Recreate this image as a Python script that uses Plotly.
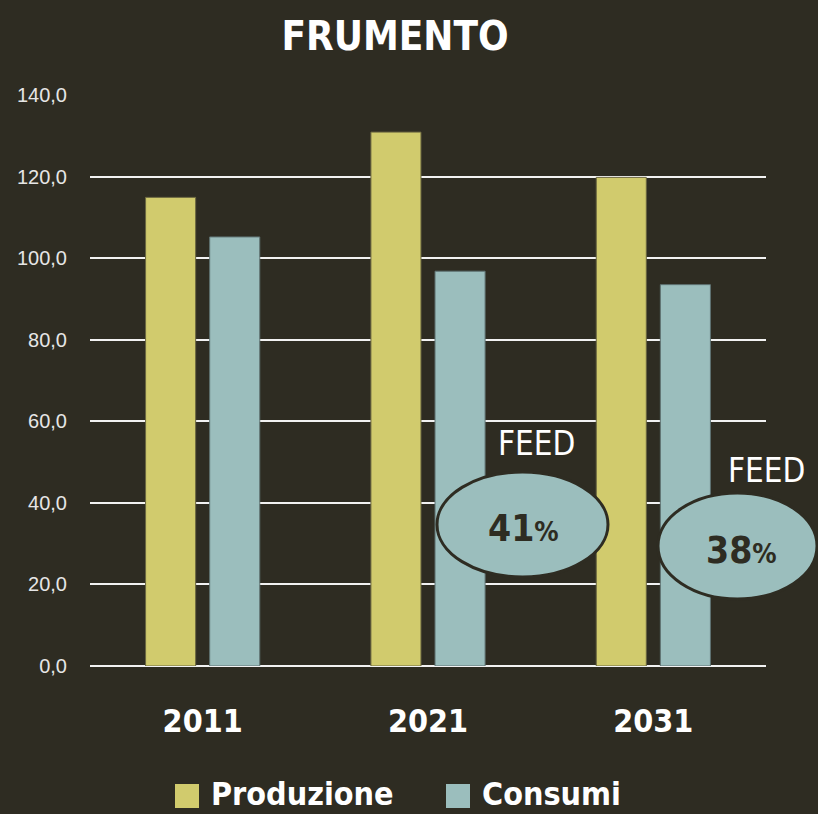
import plotly.graph_objects as go

years = ["2011", "2021", "2031"]
produzione = [114.9, 130.9, 119.8]
consumi = [105.2, 96.8, 93.5]
y_ticks = [0, 20, 40, 60, 80, 100, 120, 140]
y_tick_labels = ["0,0", "20,0", "40,0", "60,0", "80,0", "100,0", "120,0", "140,0"]
feed_labels = ["41", "38"]

BG = "#2e2c22"
YEL = "#d1cb6d"
BLU = "#9bbebd"
NARROW = "DejaVu Sans Condensed, Liberation Sans Narrow, sans-serif"

W, H = 818, 814
L, R, T, B = 90, 52, 95, 148
PW, PH = W - L - R, H - T - B


def px(x):
    return (x - L) / PW


def py(y):
    return (H - B - y) / PH


fig = go.Figure()
fig.add_trace(go.Bar(x=years, y=produzione, name="Produzione",
                     marker=dict(color=YEL, line=dict(color="#6a6640", width=1))))
fig.add_trace(go.Bar(x=years, y=consumi, name="Consumi",
                     marker=dict(color=BLU, line=dict(color="#5f7373", width=1))))

shapes = []
annotations = []

# FEED ellipses
ellipses = [(437, 472, 608, 577), (658, 493, 817, 599)]
feed_pos = [(536, 443), (766, 471)]
pct_pos = [(523, 528), (741, 550)]
for (x0, y0, x1, y1), (fx, fy), (tx, ty), lab in zip(ellipses, feed_pos, pct_pos, feed_labels):
    shapes.append(dict(type="circle", xref="paper", yref="paper",
                       x0=px(x0), x1=px(x1), y0=py(y1), y1=py(y0),
                       fillcolor=BLU, line=dict(color=BG, width=3), layer="above"))
    annotations.append(dict(xref="paper", yref="paper", x=px(fx), y=py(fy),
                            text="FEED", showarrow=False, xanchor="center", yanchor="middle",
                            font=dict(family=NARROW, size=33, color="white")))
    annotations.append(dict(xref="paper", yref="paper", x=px(tx), y=py(ty),
                            text="<b>" + lab + "<span style='font-size:27px'>%</span></b>",
                            showarrow=False, xanchor="center", yanchor="middle",
                            font=dict(family=NARROW, size=37, color=BG)))

# Manual legend
legend_items = [("Produzione", YEL, 175), ("Consumi", BLU, 446)]
for name, col, sx in legend_items:
    shapes.append(dict(type="rect", xref="paper", yref="paper",
                       x0=px(sx), x1=px(sx + 24), y0=py(808), y1=py(784),
                       fillcolor=col, line=dict(width=0), layer="above"))
    annotations.append(dict(xref="paper", yref="paper", x=px(sx + 34), y=py(794),
                            text="<b>" + name + "</b>", showarrow=False,
                            xanchor="left", yanchor="middle",
                            font=dict(family=NARROW, size=32, color="white")))

fig.update_layout(
    width=W, height=H,
    paper_bgcolor=BG, plot_bgcolor=BG,
    margin=dict(l=L, r=R, t=T, b=B),
    barmode="group", bargap=0.431, bargroupgap=0.219,
    showlegend=False,
    title=dict(text="<b>FRUMENTO</b>", x=395 / W, xanchor="center",
               y=1 - 36 / H, yanchor="middle",
               font=dict(family=NARROW, size=40, color="white")),
    xaxis=dict(showgrid=False, showline=False, zeroline=False, ticks="",
               tickfont=dict(family=NARROW, size=32, color="white"),
               tickprefix="<b>", ticksuffix="</b>", ticklabelstandoff=33),
    yaxis=dict(range=[0, 140], tickvals=y_ticks, ticktext=y_tick_labels,
               showgrid=True, gridcolor="#f2f2f2", gridwidth=2,
               zeroline=True, zerolinecolor="#f2f2f2", zerolinewidth=2,
               showline=False, ticks="", ticklabelstandoff=22,
               tickfont=dict(family="Liberation Sans, Arial, sans-serif", size=20, color="#e6e6e6")),
    shapes=shapes, annotations=annotations,
)

fig.write_html("out.html", config={"displayModeBar": False},
               post_script="document.body.style.margin='0';document.body.style.background='#2e2c22';")
